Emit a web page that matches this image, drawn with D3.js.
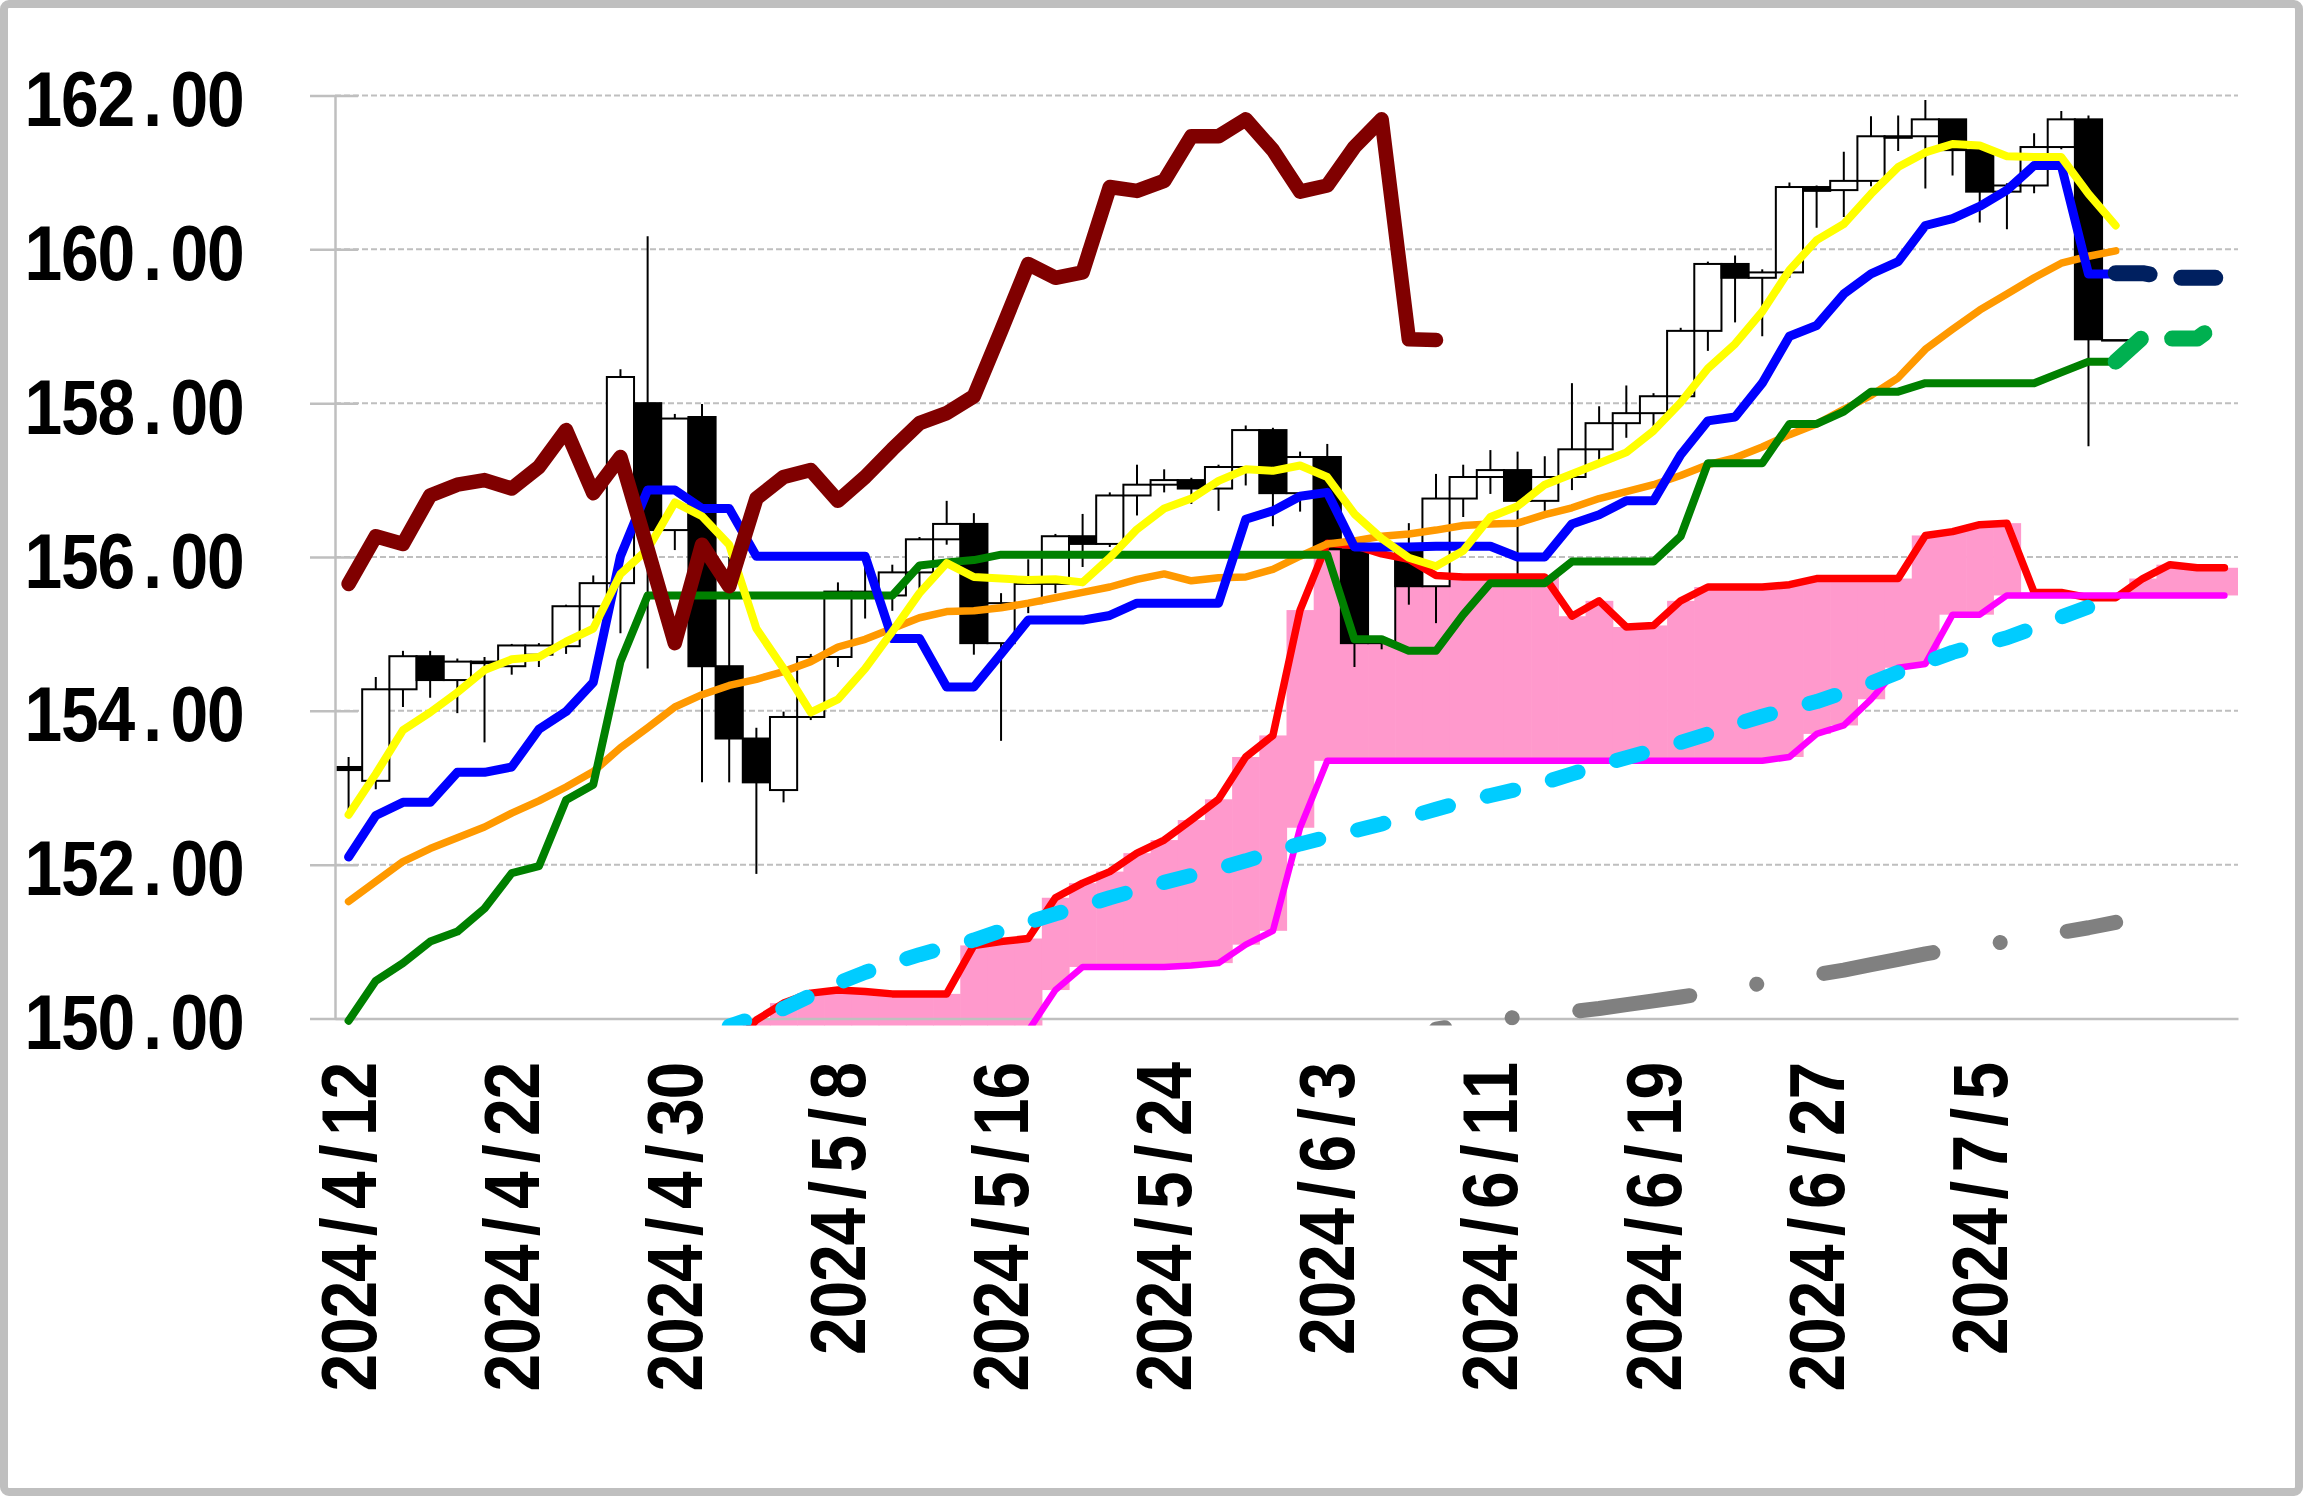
<!DOCTYPE html>
<html><head><meta charset="utf-8">
<script src="https://cdn.jsdelivr.net/npm/d3@7"></script>
<style>html,body{margin:0;padding:0;background:#fff;} svg{display:block;}</style>
</head><body><svg id="c" width="2303" height="1496"></svg>
<script>
// ---------- DATA ----------
const dates = ["4/12","4/15","4/16","4/17","4/18","4/19","4/22","4/23","4/24","4/25",
"4/26","4/29","4/30","5/1","5/2","5/3","5/6","5/7","5/8","5/9",
"5/10","5/13","5/14","5/15","5/16","5/17","5/20","5/21","5/22","5/23",
"5/24","5/27","5/28","5/29","5/30","5/31","6/3","6/4","6/5","6/6",
"6/7","6/10","6/11","6/12","6/13","6/14","6/17","6/18","6/19","6/20",
"6/21","6/24","6/25","6/26","6/27","6/28","7/1","7/2","7/3","7/4",
"7/5","7/8","7/9","7/10","7/11","7/12","","","",""];
const yearPrefix = "2024/";
const xTickEvery = 6;
const yTicks = [150,152,154,156,158,160,162];

const open = [153.27,153.09,154.28,154.71,154.40,154.64,154.58,154.73,154.84,155.36,
155.66,158.00,156.35,157.82,154.58,153.64,152.97,153.92,154.70,155.55,
155.50,155.80,156.23,156.43,154.88,155.40,155.65,156.27,156.17,156.80,
156.94,157.00,156.89,157.17,157.65,156.83,157.30,156.10,154.88,156.16,
155.62,156.76,157.04,157.13,156.73,157.04,157.40,157.74,157.87,158.09,
158.94,159.81,159.63,159.70,160.81,160.77,160.89,161.45,161.47,161.69,
161.29,160.75,160.83,161.33,161.69,158.82];
const high = [153.40,154.44,154.78,154.78,154.68,154.70,154.87,154.88,155.38,155.76,
158.44,160.17,157.86,157.99,156.00,153.78,153.99,154.74,155.67,155.95,
155.90,156.26,156.73,156.57,155.53,155.97,156.30,156.56,156.84,157.20,
157.14,157.03,157.20,157.71,157.68,157.37,157.47,156.20,156.20,156.44,
157.08,157.20,157.39,157.37,157.31,158.26,157.96,158.23,158.13,158.98,
159.84,159.92,159.74,160.87,160.83,161.27,161.73,161.74,161.94,161.69,
161.33,160.86,161.51,161.80,161.74,158.82];
const low = [152.70,152.98,154.05,154.17,153.97,153.59,154.47,154.57,154.74,155.20,
155.01,154.55,156.09,153.07,153.07,151.88,152.81,153.88,154.57,155.20,
155.30,155.53,156.16,154.73,153.61,155.27,155.53,155.87,156.13,156.54,
156.84,156.69,156.60,156.93,156.40,156.59,156.00,154.57,154.80,155.38,
155.14,156.52,156.82,155.75,156.60,156.87,157.25,157.55,157.70,158.03,
158.68,159.05,158.87,159.63,160.28,160.42,160.82,161.28,160.79,160.96,
160.35,160.26,160.73,161.30,157.44,158.82];
const close = [153.23,154.28,154.71,154.40,154.64,154.62,154.85,154.85,155.36,155.66,
158.34,156.35,157.80,154.58,153.64,153.07,153.92,154.70,155.55,155.50,
155.80,156.23,156.43,154.88,155.40,155.65,156.27,156.17,156.80,156.94,
157.00,156.89,157.17,157.65,156.83,157.30,156.10,154.88,156.16,155.62,
156.76,157.04,157.13,156.73,157.04,157.40,157.74,157.87,158.09,158.94,
159.81,159.63,159.70,160.81,160.76,160.89,161.47,161.47,161.69,161.29,
160.75,160.83,161.33,161.69,158.83,158.82];

// conversion line (tenkan) – from index 0
const tenkan = [152.10,152.64,152.81,152.81,153.20,153.20,153.27,153.76,153.99,154.37,
156.01,156.87,156.87,156.63,156.63,156.01,156.01,156.01,156.01,156.01,
154.94,154.94,154.31,154.31,154.74,155.18,155.18,155.18,155.24,155.40,
155.40,155.40,155.40,156.49,156.60,156.79,156.84,156.13,156.13,156.13,
156.14,156.14,156.14,156.00,156.00,156.43,156.55,156.73,156.73,157.33,
157.77,157.82,158.26,158.87,159.01,159.42,159.68,159.84,160.31,160.40,
160.56,160.77,161.09,161.09,159.68,159.68];
const tenkanFutureStart = 65;
const tenkanFuture = [159.69,159.69,159.63,159.63,159.63];

// base line (kijun) – from index 0
const kijun = [149.97,150.49,150.72,151.00,151.13,151.43,151.89,151.98,152.84,153.04,
154.64,155.50,155.50,155.50,155.50,155.50,155.50,155.50,155.50,155.50,
155.50,155.89,155.93,155.96,156.03,156.03,156.03,156.03,156.03,156.03,
156.03,156.03,156.03,156.03,156.03,156.03,156.03,154.93,154.93,154.78,
154.78,155.25,155.66,155.66,155.66,155.94,155.94,155.94,155.94,156.27,
157.22,157.22,157.22,157.73,157.73,157.89,158.15,158.15,158.26,158.26,
158.26,158.26,158.26,158.40,158.54,158.54];
const kijunFutureStart = 65;
const kijunFuture = [158.54,158.86,158.84,158.84,159.10];

// 5-day MA – from index 0
const ma5 = [152.65,153.18,153.75,153.98,154.24,154.53,154.67,154.70,154.90,155.07,
155.78,156.10,156.71,156.53,156.16,155.07,154.55,153.98,154.15,154.55,
155.03,155.53,155.92,155.74,155.72,155.70,155.71,155.67,155.99,156.36,
156.63,156.76,156.99,157.14,157.12,157.19,157.04,156.56,156.24,155.99,
155.88,156.08,156.52,156.66,156.94,157.08,157.22,157.36,157.64,158.01,
158.45,158.77,159.19,159.73,160.12,160.33,160.72,161.07,161.26,161.37,
161.35,161.21,161.20,161.20,160.72,160.31];

// 25-day MA – from index 0
const ma25 = [151.52,151.78,152.04,152.21,152.35,152.49,152.67,152.83,153.01,153.21,
153.52,153.78,154.05,154.21,154.33,154.41,154.51,154.64,154.83,154.93,
155.07,155.21,155.29,155.30,155.34,155.40,155.47,155.54,155.61,155.71,
155.78,155.69,155.73,155.74,155.84,156.01,156.17,156.21,156.27,156.30,
156.35,156.41,156.43,156.44,156.55,156.64,156.76,156.85,156.94,157.06,
157.20,157.29,157.43,157.59,157.73,157.92,158.10,158.33,158.70,158.96,
159.21,159.42,159.63,159.82,159.91,159.98];

// leading span A – from index 14
const spanAStart = 14;
const spanA = [149.60,149.98,150.20,150.33,150.37,150.35,150.32,150.32,150.32,150.95,
151.00,151.04,151.57,151.76,151.91,152.15,152.32,152.58,152.85,153.40,
153.68,155.31,156.18,156.15,156.04,155.97,155.76,155.74,155.74,155.74,
155.74,155.23,155.43,155.09,155.11,155.43,155.61,155.61,155.61,155.64,
155.72,155.72,155.72,155.72,156.28,156.33,156.42,156.44,155.54,155.54,
155.47,155.47,155.72,155.90,155.86,155.86];

// leading span B – from index 25
const spanBStart = 25;
const spanB = [149.84,150.37,150.67,150.67,150.67,150.67,150.69,150.72,150.96,151.14,
152.48,153.35,153.35,153.35,153.35,153.35,153.35,153.35,153.35,153.35,
153.35,153.35,153.35,153.35,153.35,153.35,153.35,153.35,153.40,153.70,
153.81,154.15,154.56,154.61,155.25,155.25,155.50,155.50,155.50,155.50,
155.50,155.50,155.50,155.50,155.50];

// 75-day MA – from index 14
const ma75Start = 14;
const ma75 = [149.90,150.02,150.13,150.30,150.46,150.60,150.72,150.83,150.93,151.02,
151.14,151.25,151.36,151.46,151.57,151.67,151.77,151.86,151.95,152.05,
152.16,152.27,152.36,152.44,152.53,152.62,152.72,152.82,152.90,152.98,
153.07,153.18,153.29,153.39,153.49,153.59,153.70,153.82,153.93,154.03,
154.12,154.24,154.36,154.50,154.63,154.76,154.86,154.95,155.08,155.22,
155.35];

// 200-day MA – from index 40
const ma200Start = 40;
const ma200 = [149.86,149.92,149.97,150.02,150.06,150.09,150.13,150.18,150.23,150.28,
150.33,150.39,150.46,150.52,150.57,150.63,150.70,150.77,150.84,150.90,
150.95,151.00,151.05,151.12,151.18,151.25];

// lagging span (chikou) – from index 0
const chikou = [155.65,156.27,156.17,156.80,156.94,157.00,156.89,157.17,157.65,156.83,
157.30,156.10,154.88,156.16,155.62,156.76,157.04,157.13,156.73,157.04,
157.40,157.74,157.87,158.09,158.94,159.81,159.63,159.70,160.81,160.76,
160.89,161.47,161.47,161.69,161.29,160.75,160.83,161.33,161.69,158.83,
158.82];

// ---------- CHART ----------
const svg = d3.select("#c");
const W = 2303, H = 1496;
const plot = {left: 335, right: 2238, top: 95.5, bottom: 1018.5};
const FONT = "'Liberation Sans', Arial, sans-serif";
const FONT_SIZE = 77;
const CELL = 36.5;      // monospaced character cell
const SX = 0.88;        // horizontal condensing of glyphs

const x = d3.scaleBand().domain(d3.range(dates.length)).range([plot.left, plot.right]).padding(0);
const y = d3.scaleLinear().domain([150, 162]).range([plot.bottom, plot.top]);
const bw = x.bandwidth();
const cx = i => x(i) + bw / 2;

svg.append("rect").attr("width", W).attr("height", H).attr("fill", "#fff");
svg.append("rect").attr("x", 4).attr("y", 4).attr("width", W - 8).attr("height", H - 8)
  .attr("rx", 5).attr("fill", "#fff").attr("stroke", "#bfbfbf").attr("stroke-width", 8);

const defs = svg.append("defs");
defs.append("clipPath").attr("id", "clip").append("rect")
  .attr("x", plot.left).attr("y", 80).attr("width", plot.right - plot.left).attr("height", plot.bottom + 7 - 80);

// gridlines
svg.append("g").selectAll("line").data(yTicks.filter(v => v > 150)).join("line")
  .attr("x1", plot.left).attr("x2", plot.right)
  .attr("y1", d => y(d)).attr("y2", d => y(d))
  .attr("stroke", "#bfbfbf").attr("stroke-width", 2).attr("stroke-dasharray", "6,3");

const g = svg.append("g").attr("clip-path", "url(#clip)");

// cloud (kumo) columns
const seriesAt = (arr, start, i) => (i >= start && i - start < arr.length) ? arr[i - start] : null;
const cloud = d3.range(dates.length).map(i => {
  const a = seriesAt(spanA, spanAStart, i), b = seriesAt(spanB, spanBStart, i);
  if (a == null) return null;
  const bb = b == null ? y.domain()[0] - 0.2 : b;
  return {i, top: Math.max(a, bb), bot: Math.min(a, bb)};
}).filter(d => d);
g.append("g").selectAll("rect").data(cloud).join("rect")
  .attr("x", d => x(d.i)).attr("width", bw + 0.6)
  .attr("y", d => y(d.top)).attr("height", d => Math.max(0, y(d.bot) - y(d.top)))
  .attr("fill", "#ff99cc");

// candles
const candles = open.map((o, i) => ({i, o, h: high[i], l: low[i], c: close[i]}));
const cg = g.append("g");
cg.selectAll("line").data(candles).join("line")
  .attr("x1", d => cx(d.i)).attr("x2", d => cx(d.i))
  .attr("y1", d => y(d.h)).attr("y2", d => y(d.l))
  .attr("stroke", "#000").attr("stroke-width", 2);
cg.selectAll("rect").data(candles).join("rect")
  .attr("x", d => x(d.i)).attr("width", bw)
  .attr("y", d => y(Math.max(d.o, d.c)))
  .attr("height", d => Math.max(0.5, Math.abs(y(d.o) - y(d.c))))
  .attr("fill", d => d.c < d.o ? "#000" : "#fff")
  .attr("stroke", "#000").attr("stroke-width", 2);

// glyph width measurement for monospaced cell layout
const meas = svg.append("text").attr("font-family", FONT).attr("font-size", FONT_SIZE)
  .attr("font-weight", "bold").attr("x", -9999).attr("y", -9999);
const charW = {};
function widthOf(ch) {
  if (!(ch in charW)) { meas.text(ch); charW[ch] = meas.node().getComputedTextLength(); }
  return charW[ch];
}
function monoLayout(textSel, endX, baseY, rotated) {
  textSel.each(function () {
    const t = d3.select(this);
    const chars = [...t.text()];
    const start = endX - chars.length * CELL;
    const xs = chars.map((ch, k) => (start + k * CELL + (CELL - widthOf(ch) * SX) / 2) / SX);
    t.attr("text-anchor", "start").attr("dy", null)
      .attr("x", xs.map(v => v.toFixed(2)).join(" "))
      .attr("y", baseY)
      .attr("transform", (rotated ? "rotate(-90) " : "") + `scale(${SX},1)`);
  });
}

// axes
const xAxis = svg.append("g").attr("transform", `translate(0,${plot.bottom})`)
  .call(d3.axisBottom(x).tickValues(d3.range(0, dates.length, xTickEvery).filter(i => dates[i]))
    .tickSize(0).tickSizeOuter(0).tickFormat(i => yearPrefix + dates[i]));
xAxis.select(".domain").attr("stroke", "#bfbfbf").attr("stroke-width", 2.5);
xAxis.attr("font-family", FONT).attr("font-size", FONT_SIZE).attr("font-weight", "bold");
xAxis.selectAll(".tick text").attr("fill", "#000");
monoLayout(xAxis.selectAll(".tick text"), -44, 27, true);

const yAxis = svg.append("g").attr("transform", `translate(${plot.left},0)`)
  .call(d3.axisLeft(y).tickValues(yTicks).tickSize(24).tickSizeOuter(0).tickPadding(67).tickFormat(d3.format(".2f")));
yAxis.select(".domain").attr("stroke", "#bfbfbf").attr("stroke-width", 2.5);
yAxis.selectAll(".tick line").attr("x2", -25).attr("x1", 23).attr("stroke", "#bfbfbf").attr("stroke-width", 2.5);
yAxis.attr("font-family", FONT).attr("font-size", FONT_SIZE).attr("font-weight", "bold");
yAxis.selectAll(".tick text").attr("fill", "#000");
monoLayout(yAxis.selectAll(".tick text"), -91, 30, false);
meas.remove();

// lines
const toPts = (arr, start) => arr.map((v, k) => [start + k, v]);
const line = d3.line().x(d => cx(d[0])).y(d => y(d[1]));
const lg = svg.append("g").attr("clip-path", "url(#clip)")
  .attr("fill", "none").attr("stroke-linecap", "round").attr("stroke-linejoin", "round");

const series = [
  {pts: toPts(spanA, spanAStart), color: "#ff0000", w: 7.5},
  {pts: toPts(spanB, spanBStart), color: "#ff00ff", w: 6.5},
  {pts: toPts(ma25, 0), color: "#ff9900", w: 7.5},
  {pts: toPts(kijun, 0), color: "#008000", w: 8},
  {pts: toPts(tenkan, 0), color: "#0000ff", w: 9},
  {pts: toPts(ma5, 0), color: "#ffff00", w: 8},
  {pts: toPts(ma75, ma75Start), color: "#00ccff", w: 15, dash: [27, 40], align: {pos: 13.5, idx: 42.37}},
  {pts: toPts(ma200, ma200Start), color: "#808080", w: 15, dash: [111, 68, 0.01, 68], align: {pos: 179, idx: 42.8}},
  {pts: toPts(chikou, 0), color: "#800000", w: 14.5},
  {pts: toPts(tenkanFuture, tenkanFutureStart), color: "#002060", w: 16, dash: [34, 32]},
  {pts: toPts(kijunFuture, kijunFutureStart), color: "#00b050", w: 16, dash: [34, 32]}
];

series.forEach(s => {
  const p = lg.append("path").attr("d", line(s.pts)).attr("stroke", s.color).attr("stroke-width", s.w);
  if (s.dash) {
    p.attr("stroke-dasharray", s.dash.join(","));
    if (s.align) {
      const node = p.node();
      const total = node.getTotalLength();
      const tx = plot.left + bw / 2 + s.align.idx * bw;
      let lo = 0, hi = total;
      for (let k = 0; k < 40; k++) {
        const mid = (lo + hi) / 2;
        if (node.getPointAtLength(mid).x < tx) lo = mid; else hi = mid;
      }
      const period = d3.sum(s.dash);
      const off = ((s.align.pos - lo) % period + period) % period;
      p.attr("stroke-dashoffset", off);
    }
  }
});
</script></body></html>
